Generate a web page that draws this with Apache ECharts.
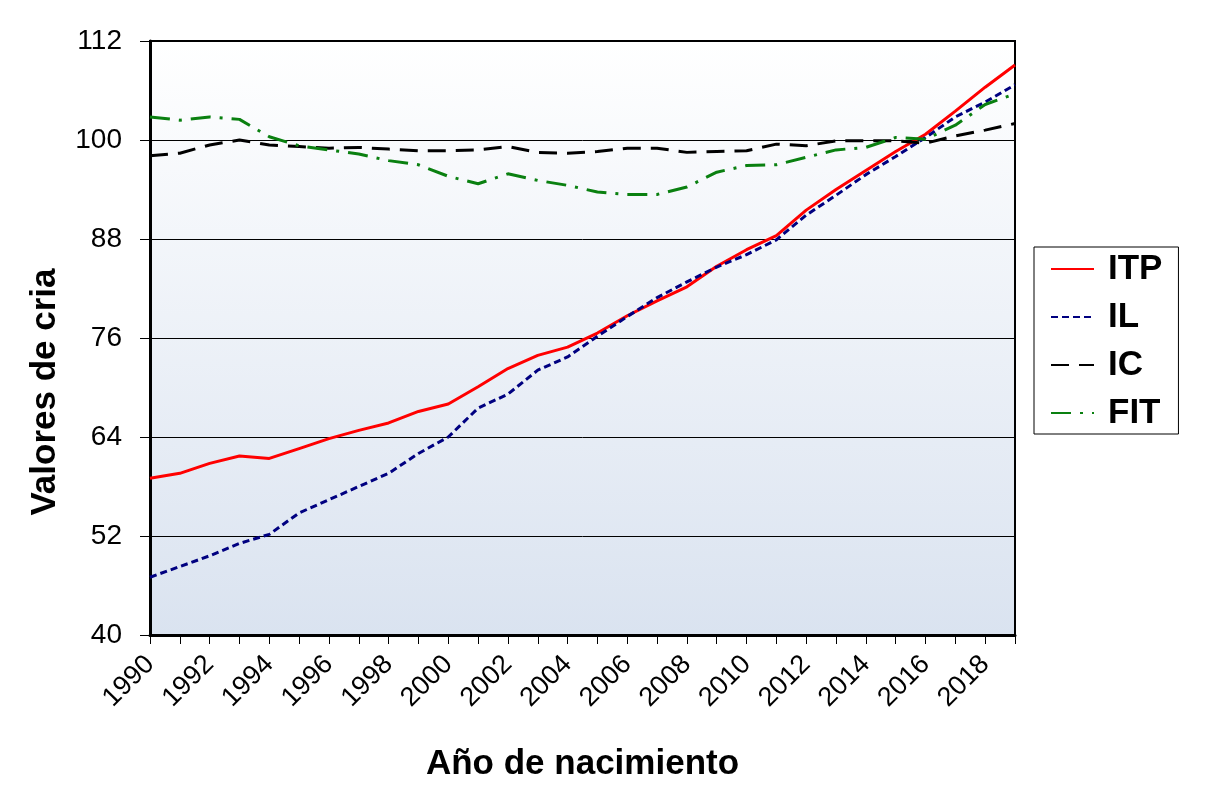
<!DOCTYPE html>
<html>
<head>
<meta charset="utf-8">
<script src="https://cdn.jsdelivr.net/npm/echarts@6/dist/echarts.min.js"></script>
<style>
html,body{margin:0;padding:0;background:#fff;}
#chart{width:1221px;height:789px;}
</style>
</head>
<body>
<div id="chart"></div>
<script>
const years = ['1990','1991','1992','1993','1994','1995','1996','1997','1998','1999','2000','2001','2002','2003','2004','2005','2006','2007','2008','2009','2010','2011','2012','2013','2014','2015','2016','2017','2018','2019'];
const itp = [59.0,59.6,60.8,61.7,61.4,62.6,63.8,64.8,65.7,67.1,68.0,70.1,72.3,73.9,74.9,76.6,78.7,80.5,82.2,84.7,86.7,88.4,91.5,94.0,96.3,98.6,100.7,103.5,106.4,109.1];
const il = [47.0,48.3,49.6,51.1,52.2,54.8,56.4,58.0,59.6,62.0,64.0,67.5,69.2,72.1,73.7,76.2,78.6,80.9,82.8,84.6,86.1,87.9,90.9,93.3,95.8,98.0,100.3,102.8,104.6,106.7];
const ic = [98.1,98.4,99.4,100.0,99.4,99.2,99.0,99.1,98.9,98.7,98.7,98.8,99.2,98.5,98.4,98.6,99.0,99.0,98.5,98.6,98.7,99.5,99.3,99.9,99.9,99.9,99.6,100.5,101.2,102.0];
const fit = [102.8,102.4,102.8,102.5,100.4,99.3,98.8,98.3,97.5,97.0,95.6,94.7,95.9,95.1,94.5,93.7,93.4,93.4,94.3,96.1,96.9,97.0,97.9,98.8,99.1,100.3,100.1,101.8,104.3,105.6];
const yTicks = [40,52,64,76,88,100,112];

const chart = echarts.init(document.getElementById('chart'));
const F = 'Liberation Sans, Arial, sans-serif';
chart.setOption({
  animation:false,
  backgroundColor:'#ffffff',
  grid:{left:150,right:206,top:41,bottom:154,show:true,borderColor:'#000',borderWidth:2,
    outerBoundsMode:'none',containLabel:false,
    backgroundColor:new echarts.graphic.LinearGradient(0,0,0,1,[{offset:0,color:'#ffffff'},{offset:1,color:'#dae3f0'}])},
  legend:{
    orient:'vertical',left:1034,top:247,
    backgroundColor:'#fff',borderColor:'#000',borderWidth:1,borderRadius:0,
    padding:[4,16,3,16],itemGap:12,itemWidth:43,itemHeight:14,
    itemStyle:{opacity:0},
    textStyle:{fontFamily:F,fontSize:35,fontWeight:'bold',color:'#000',lineHeight:36,padding:[0,0,0,9]},
    data:['ITP','IL','IC','FIT']
  },
  xAxis:{
    type:'category',data:years,boundaryGap:false,
    name:'Año de nacimiento',nameLocation:'middle',nameGap:112,
    nameTextStyle:{fontFamily:F,fontSize:35,fontWeight:'bold',color:'#000'},
    axisLine:{lineStyle:{color:'#000',width:3}},
    axisTick:{show:true,interval:0,length:9,lineStyle:{color:'#000',width:1}},
    axisLabel:{interval:1,rotate:45,fontFamily:F,fontSize:27,color:'#000',margin:25},
    splitLine:{show:false}
  },
  yAxis:{
    type:'value',min:40,max:112,interval:12,
    axisLine:{show:true,lineStyle:{color:'#000',width:3}},
    axisTick:{show:true,length:10,lineStyle:{color:'#000',width:1}},
    axisLabel:{fontFamily:F,fontSize:28,color:'#000',margin:28},
    splitLine:{show:true,lineStyle:{color:'#000',width:1}}
  },
  graphic:[{
    type:'text',rotation:Math.PI/2,position:[45,392],
    style:{text:'Valores de cria',fontFamily:F,fontSize:35,fontWeight:'bold',fill:'#000',textAlign:'center',textVerticalAlign:'middle',x:0,y:0}
  }],
  series:[
    {name:'ITP',type:'line',data:itp,symbol:'none',lineStyle:{color:'#ff0000',width:3,type:'solid'},itemStyle:{color:'#ff0000'}},
    {name:'IL',type:'line',data:il,symbol:'none',lineStyle:{color:'#000080',width:3,type:[7,4]},itemStyle:{color:'#000080'}},
    {name:'IC',type:'line',data:ic,symbol:'none',lineStyle:{color:'#000000',width:3,type:[18,10]},itemStyle:{color:'#000'}},
    {name:'FIT',type:'line',data:fit,symbol:'none',lineStyle:{color:'#0a8010',width:3,type:[20,9,3,9]},itemStyle:{color:'#0a8010'}}
  ]
});
</script>
</body>
</html>
